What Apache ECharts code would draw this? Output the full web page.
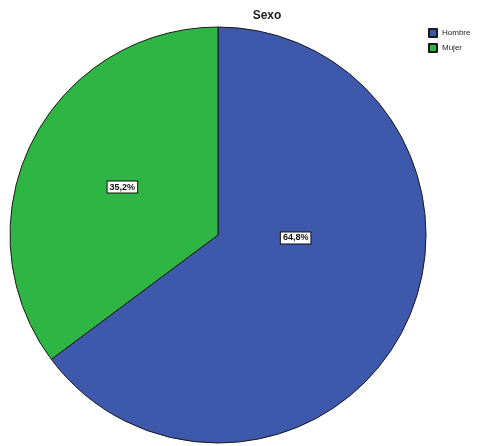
<!DOCTYPE html>
<html>
<head>
<meta charset="utf-8">
<script src="https://cdn.jsdelivr.net/npm/echarts@6/dist/echarts.min.js"></script>
<style>html,body{margin:0;padding:0;background:#fff;}#c{width:478px;height:446px;}</style>
</head>
<body>
<div id="c"></div>
<script>
const categories = ["Hombre", "Mujer"];
const values = [64.8, 35.2];
const colors = ["#3e58ac", "#2fb544"];

const chart = echarts.init(document.getElementById('c'), null, {renderer: 'canvas'});
const data = categories.map((name, i) => ({
  name: name,
  value: values[i],
  itemStyle: {color: colors[i]},
  label: i === 0 ? {offset: [-18, -45]} : {}
}));
chart.setOption({
  animation: false,
  backgroundColor: '#fff',
  title: {
    text: 'Sexo', left: 262, top: 5, textAlign: 'center',
    textStyle: {fontFamily: 'Liberation Sans', fontSize: 12, fontWeight: 'bold', color: '#222'}
  },
  legend: {
    orient: 'vertical', left: 423, top: 23,
    itemWidth: 8, itemHeight: 8, itemGap: 5,
    icon: 'rect',
    textStyle: {fontFamily: 'Liberation Sans', fontSize: 8, color: '#222'},
    data: categories
  },
  series: [{
    type: 'pie',
    center: [218, 235],
    radius: 208,
    startAngle: 90,
    clockwise: true,
    itemStyle: {borderColor: '#1a1a1a', borderWidth: 1},
    label: {
      show: true, position: 'inside',
      formatter: p => p.value.toFixed(1).replace('.', ',') + '%',
      fontFamily: 'Liberation Sans', fontSize: 9, fontWeight: 'bold', color: '#111',
      backgroundColor: '#fff', borderColor: '#111', borderWidth: 1, padding: [1, 2]
    },
    labelLine: {show: false},
    emphasis: {disabled: true},
    data: data
  }]
});
</script>
</body>
</html>
